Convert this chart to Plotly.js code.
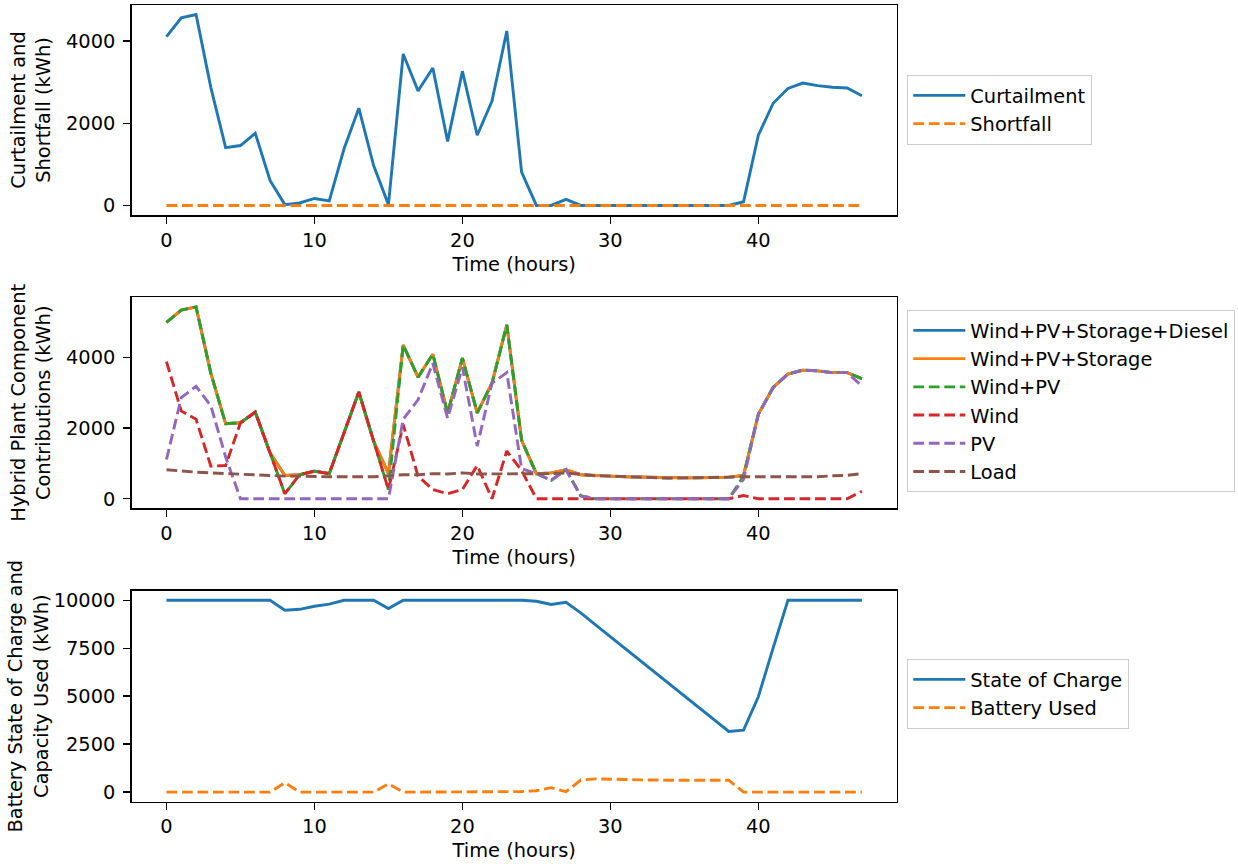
<!DOCTYPE html>
<html>
<head>
<meta charset="utf-8">
<script src="https://cdn.plot.ly/plotly-3.0.1.min.js"></script>
<style>html,body{margin:0;padding:0;background:#fff;}#chart{width:1238px;height:864px;}</style>
</head>
<body>
<div id="chart"></div>
<script>
const hours = [0,1,2,3,4,5,6,7,8,9,10,11,12,13,14,15,16,17,18,19,20,21,22,23,24,25,26,27,28,29,30,31,32,33,34,35,36,37,38,39,40,41,42,43,44,45,46,47];

const curtailment = [4110,4570,4650,2870,1410,1460,1760,610,20,60,170,110,1380,2370,970,20,3690,2790,3350,1560,3270,1710,2540,4250,810,0,0,150,0,0,0,0,0,0,0,0,0,0,0,90,1710,2490,2850,2980,2920,2880,2860,2670];
const shortfall = [0,0,0,0,0,0,0,0,0,0,0,0,0,0,0,0,0,0,0,0,0,0,0,0,0,0,0,0,0,0,0,0,0,0,0,0,0,0,0,0,0,0,0,0,0,0,0,0];

const totalSupply = [4990,5340,5430,3550,2120,2150,2450,1300,660,680,780,710,1870,3020,1630,710,4350,3440,4090,2420,3980,2430,3270,4920,1650,710,730,820,680,650,640,620,610,590,580,590,590,590,610,660,2390,3150,3530,3640,3620,3570,3570,3400];
const windPvStorage = [4990,5340,5430,3550,2120,2150,2450,1300,660,680,780,710,1870,3020,1630,710,4350,3440,4090,2420,3980,2430,3270,4920,1650,710,730,820,680,650,640,620,610,590,580,590,590,590,610,660,2390,3150,3530,3640,3620,3570,3570,3400];
const windPv = [4990,5340,5430,3550,2120,2150,2450,1300,140,680,780,710,1870,3020,1630,260,4350,3440,4090,2420,3980,2430,3270,4920,1650,710,520,820,80,0,0,0,0,0,0,0,0,0,0,640,2390,3150,3530,3640,3620,3570,3570,3400];
const wind = [3880,2480,2250,920,940,2150,2450,1300,140,680,780,710,1870,3020,1630,260,2100,640,260,140,260,940,0,1350,800,0,0,0,0,0,0,0,0,0,0,0,0,0,0,90,0,0,0,0,0,0,0,210];
const pv = [1110,2860,3180,2630,1180,0,0,0,0,0,0,0,0,0,0,0,2250,2800,3830,2280,3720,1490,3270,3570,850,710,520,820,80,0,0,0,0,0,0,0,0,0,0,550,2390,3150,3530,3640,3620,3570,3570,3190];
const load = [820,780,750,730,710,700,680,660,640,640,620,620,620,620,620,650,680,680,710,700,730,700,700,710,700,700,710,730,680,650,640,620,610,590,580,590,590,590,610,620,620,620,640,640,620,650,660,710];

const stateOfCharge = [10000,10000,10000,10000,10000,10000,10000,10000,9480,9530,9690,9800,10000,10000,10000,9570,10000,10000,10000,10000,10000,10000,10000,10000,10000,9950,9780,9900,9340,8720,8100,7490,6870,6250,5630,5020,4400,3780,3160,3230,4970,7520,10000,10000,10000,10000,10000,10000];
const batteryUsed = [0,0,0,0,0,0,0,0,490,0,0,0,0,0,0,430,0,0,0,0,0,0,0,0,30,70,230,20,630,690,690,660,640,620,620,620,620,620,620,0,0,0,0,0,0,0,0,0];

const xTicks = [0,10,20,30,40];
const yTicksTop = [0,2000,4000];
const yTicksMid = [0,2000,4000];
const yTicksBottom = [0,2500,5000,7500,10000];

const C = {blue:'#1f77b4', orange:'#ff7f0e', green:'#2ca02c', red:'#d62728', purple:'#9467bd', brown:'#8c564b'};
const LW = 2.9;
const DASH = '10.8px,4.7px';
const FONT = 'DejaVu Sans, Verdana, sans-serif';
const FS = 19.4;

function line(x, y, name, color, dashed, xa, ya, legend) {
  return {x: x, y: y, name: name, type: 'scatter', mode: 'lines', xaxis: xa, yaxis: ya, legend: legend,
    line: {color: color, width: LW, dash: dashed ? DASH : 'solid'}, hoverinfo: 'x+y+name'};
}

const traces = [
  line(hours, curtailment, 'Curtailment', C.blue, false, 'x', 'y', 'legend'),
  line(hours, shortfall, 'Shortfall', C.orange, true, 'x', 'y', 'legend'),
  line(hours, totalSupply, 'Wind+PV+Storage+Diesel', C.blue, false, 'x2', 'y2', 'legend2'),
  line(hours, windPvStorage, 'Wind+PV+Storage', C.orange, false, 'x2', 'y2', 'legend2'),
  line(hours, windPv, 'Wind+PV', C.green, true, 'x2', 'y2', 'legend2'),
  line(hours, wind, 'Wind', C.red, true, 'x2', 'y2', 'legend2'),
  line(hours, pv, 'PV', C.purple, true, 'x2', 'y2', 'legend2'),
  line(hours, load, 'Load', C.brown, true, 'x2', 'y2', 'legend2'),
  line(hours, stateOfCharge, 'State of Charge', C.blue, false, 'x3', 'y3', 'legend3'),
  line(hours, batteryUsed, 'Battery Used', C.orange, true, 'x3', 'y3', 'legend3')
];

const W = 1238, H = 864;
const xDom = [131.7 / W, 896.7 / W];
function yDom(top, bottom) { return [1 - bottom / H, 1 - top / H]; }

function xaxis(anchor) {
  return {domain: xDom, anchor: anchor, range: [-2.35, 49.35], tickvals: xTicks,
    showline: true, mirror: true, linecolor: '#000', linewidth: 1.5, showgrid: false, zeroline: false,
    ticks: 'outside', ticklen: 7, tickwidth: 1.5, tickcolor: '#000', ticklabelstandoff: 0,
    tickfont: {family: FONT, size: FS, color: '#000'},
    title: {text: 'Time (hours)', font: {family: FONT, size: FS, color: '#000'}, standoff: 6}};
}
function yaxis(anchor, dom, range, tickvals, title, standoff) {
  return {domain: dom, anchor: anchor, range: range, tickvals: tickvals,
    exponentformat: 'none', separatethousands: false, tickformat: 'd',
    showline: true, mirror: true, linecolor: '#000', linewidth: 1.5, showgrid: false, zeroline: false,
    ticks: 'outside', ticklen: 7, tickwidth: 1.5, tickcolor: '#000', ticklabelstandoff: 4,
    tickfont: {family: FONT, size: FS, color: '#000'},
    title: {text: title, font: {family: FONT, size: FS, color: '#000'}, standoff: standoff}};
}
function legendAt(topPx) {
  return {x: 907 / W, y: 1 - topPx / H, xanchor: 'left', yanchor: 'top', bgcolor: '#fff',
    itemwidth: 52,
    bordercolor: '#cccccc', borderwidth: 1.3, font: {family: FONT, size: FS, color: '#000'}};
}

const layout = {
  width: W, height: H, paper_bgcolor: '#fff', plot_bgcolor: '#fff',
  margin: {l: 0, r: 0, t: 0, b: 0}, showlegend: true,
  font: {family: FONT, size: FS, color: '#000'},
  xaxis: xaxis('y'), xaxis2: xaxis('y2'), xaxis3: xaxis('y3'),
  yaxis: yaxis('x', yDom(5, 215), [-232.5, 4882.5], yTicksTop, 'Curtailment and<br>Shortfall (kWh)', 10),
  yaxis2: yaxis('x2', yDom(297.3, 508.3), [-271.5, 5701.5], yTicksMid, 'Hybrid Plant Component<br>Contributions (kWh)', 10),
  yaxis3: yaxis('x3', yDom(590.7, 801.7), [-500, 10500], yTicksBottom, 'Battery State of Charge and<br>Capacity Used (kWh)', 0),
  legend: legendAt(75), legend2: legendAt(310), legend3: legendAt(659)
};

Plotly.newPlot('chart', traces, layout, {displayModeBar: false, staticPlot: true});
</script>
</body>
</html>
